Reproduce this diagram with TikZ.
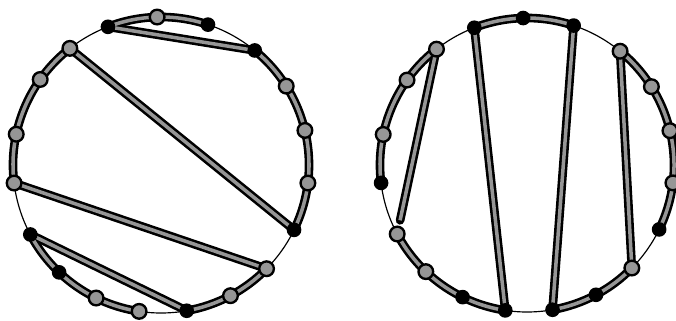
\documentclass[tikz,border=0pt]{standalone}
\usepackage{tikz}
\usetikzlibrary{calc}
\definecolor{coreGray}{HTML}{969696}
\tikzset{
  rim/.style={draw=black, line width=1pt},
  band/.style={draw=black, line width=7.4pt, line cap=round, line join=round},
  band core/.style={draw=coreGray, line width=3pt},
  dark dot/.style={circle, fill=black, minimum size=4.4mm, inner sep=0pt},
  light dot/.style={circle, draw=black, line width=2pt, fill=coreGray,
    minimum size=4.4mm, inner sep=0pt}
}
\def\rL{4.44cm}
\def\rR{4.41cm}

\begin{document}
\begin{tikzpicture}[x=0.03cm, y=0.03cm]
  \useasboundingbox (0,0) rectangle (676,321);
  \coordinate (cL) at (161,156);
  \coordinate (cR) at (527,156);
  % the 19 places on each rim
  \foreach \i/\a in {1/111, 2/91.5, 3/71.5, 4/50.7, 5/32.2, 6/13.5, 7/-7,
    8/-26, 9/-44.5, 10/-62, 11/-80, 12/-98.5, 13/-116, 14/-133.5,
    15/-152, 16/-173, 17/168, 18/144.7, 19/128} {
    \coordinate (L\i) at ($(cL)+(\a:\rL)$);
    \coordinate (R\i) at ($(cR)+(\a:\rR)$);
  }
  \draw[rim] (cL) circle[radius=\rL];
  \draw[rim] (cR) circle[radius=\rR];
  % black bands, then their grey cores
  \foreach \s in {band, band core} {
    \foreach \p/\a/\b in {1/111/71.5, 4/50.7/-26, 9/-44.5/-80,
      12/-98.5/-152, 16/-173/-232} {
      \draw[\s] (L\p) arc[start angle=\a, end angle=\b, radius=\rL];
      \draw[\s] (R\p) arc[start angle=\a, end angle=\b, radius=\rR];
    }
    \foreach \p/\q in {1/4, 19/8, 16/9, 15/11}
      \draw[\s] (L\p) -- (L\q);
    \foreach \p/\q/\d in {1/12/0mm, 3/11/0mm, 19/15/4.2mm, 4/9/2.4mm}
      \draw[\s, shorten >=\d] (R\p) -- (R\q);
  }
  % dots
  \foreach \i in {1,3,4,8,11,14,15}
    \node[dark dot] (dL\i) at (L\i) {};
  \foreach \i in {2,5,6,7,9,10,12,13,16,17,18,19}
    \node[light dot] (dL\i) at (L\i) {};
  \foreach \i in {1,2,3,8,10,11,12,13,16}
    \node[dark dot] (dR\i) at (R\i) {};
  \foreach \i in {4,5,6,7,9,14,15,17,18,19}
    \node[light dot] (dR\i) at (R\i) {};
\end{tikzpicture}
\end{document}
